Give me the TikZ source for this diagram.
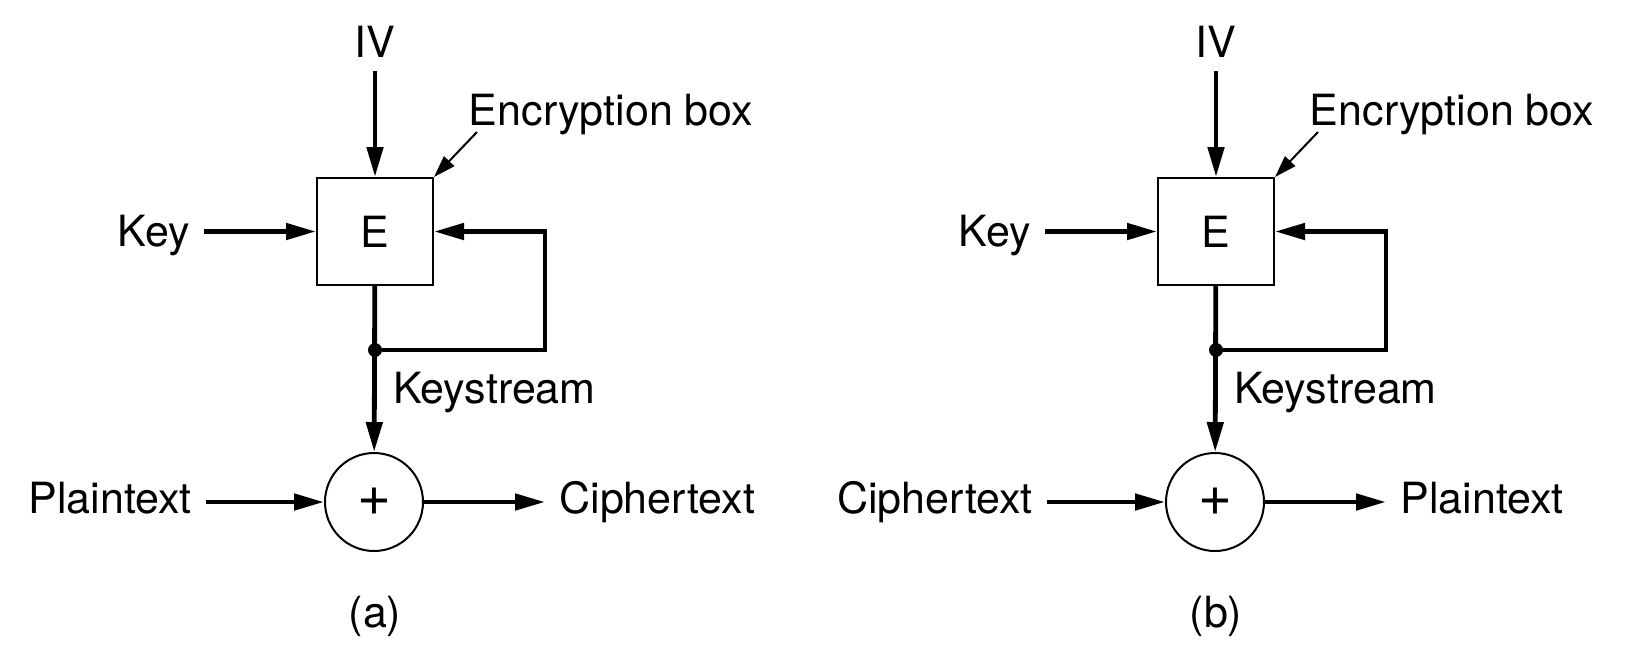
\documentclass[tikz,border=0pt]{standalone}
\usepackage{fontspec}
\setmainfont{TeX Gyre Heros}
\usetikzlibrary{arrows.meta}
\begin{document}
\begin{tikzpicture}[x=0.5pt, y=-0.5pt]
	\tikzset{texte/.style={font=\fontsize{21.5}{25}\selectfont, inner sep=7pt},
		boite/.style={texte, draw=black, line width=1pt, minimum width=58pt, minimum height=53.5pt, inner sep=0pt},
		somme/.style={circle, draw=black, line width=1pt, minimum size=49pt, inner sep=0pt, font=\fontsize{29}{30}\selectfont},
		point/.style={circle, fill=black, inner sep=0pt, minimum size=7pt},
		fleche/.style={-{Triangle[length=15pt, width=8pt]}, line width=2.4pt},
		petite/.style={-{Triangle[length=11pt, width=7pt]}, line width=1pt}};
	\useasboundingbox (0,0) rectangle (1625,666);

	% (a) chiffrement
	\node[boite] (Ea) at ( 375, 231.5) {E};
	\node[somme] (Sa) at ( 374,   502) {+};
	\node[point] (pa) at ( 375,   350) {};
	\coordinate (ra) at ( 545, 231.5);
	\coordinate (da) at ( 477,   132);

	\node[texte, anchor=base]      (iva) at ( 375,  57) {IV};
	\node[texte, anchor=base]      (la)  at ( 611, 125) {Encryption box};
	\node[texte, anchor=base east] (ka)  at ( 204, 246) {Key};
	\node[texte, anchor=base west] (ksa) at ( 379, 403) {Keystream};
	\node[texte, anchor=base east] (ea)  at ( 206, 513) {Plaintext};
	\node[texte, anchor=base west] (sa)  at ( 545, 513) {Ciphertext};
	\node[texte, anchor=base]      (ta)  at ( 375, 627) {(a)};

	\draw[fleche] (iva) -- (Ea);
	\draw[petite] (da) -- (Ea.north east);
	\draw[fleche] (ka.east |- Ea) -- (Ea);
	\draw[fleche] (pa) -| (ra) -- (Ea);
	\draw[fleche] (Ea) -- (Sa);
	\draw[fleche] (ea.east |- Sa) -- (Sa);
	\draw[fleche] (Sa) -- (sa.west |- Sa);

	% (b) dechiffrement
	\node[boite] (Eb) at (1216, 231.5) {E};
	\node[somme] (Sb) at (1215,   502) {+};
	\node[point] (pb) at (1216,   350) {};
	\coordinate (rb) at (1386, 231.5);
	\coordinate (db) at (1318,   132);

	\node[texte, anchor=base]      (ivb) at (1216,  57) {IV};
	\node[texte, anchor=base]      (lb)  at (1452, 125) {Encryption box};
	\node[texte, anchor=base east] (kb)  at (1045, 246) {Key};
	\node[texte, anchor=base west] (ksb) at (1220, 403) {Keystream};
	\node[texte, anchor=base east] (eb)  at (1047, 513) {Ciphertext};
	\node[texte, anchor=base west] (sb)  at (1386, 513) {Plaintext};
	\node[texte, anchor=base]      (tb)  at (1216, 627) {(b)};

	\draw[fleche] (ivb) -- (Eb);
	\draw[petite] (db) -- (Eb.north east);
	\draw[fleche] (kb.east |- Eb) -- (Eb);
	\draw[fleche] (pb) -| (rb) -- (Eb);
	\draw[fleche] (Eb) -- (Sb);
	\draw[fleche] (eb.east |- Sb) -- (Sb);
	\draw[fleche] (Sb) -- (sb.west |- Sb);

\end{tikzpicture}
\end{document}
